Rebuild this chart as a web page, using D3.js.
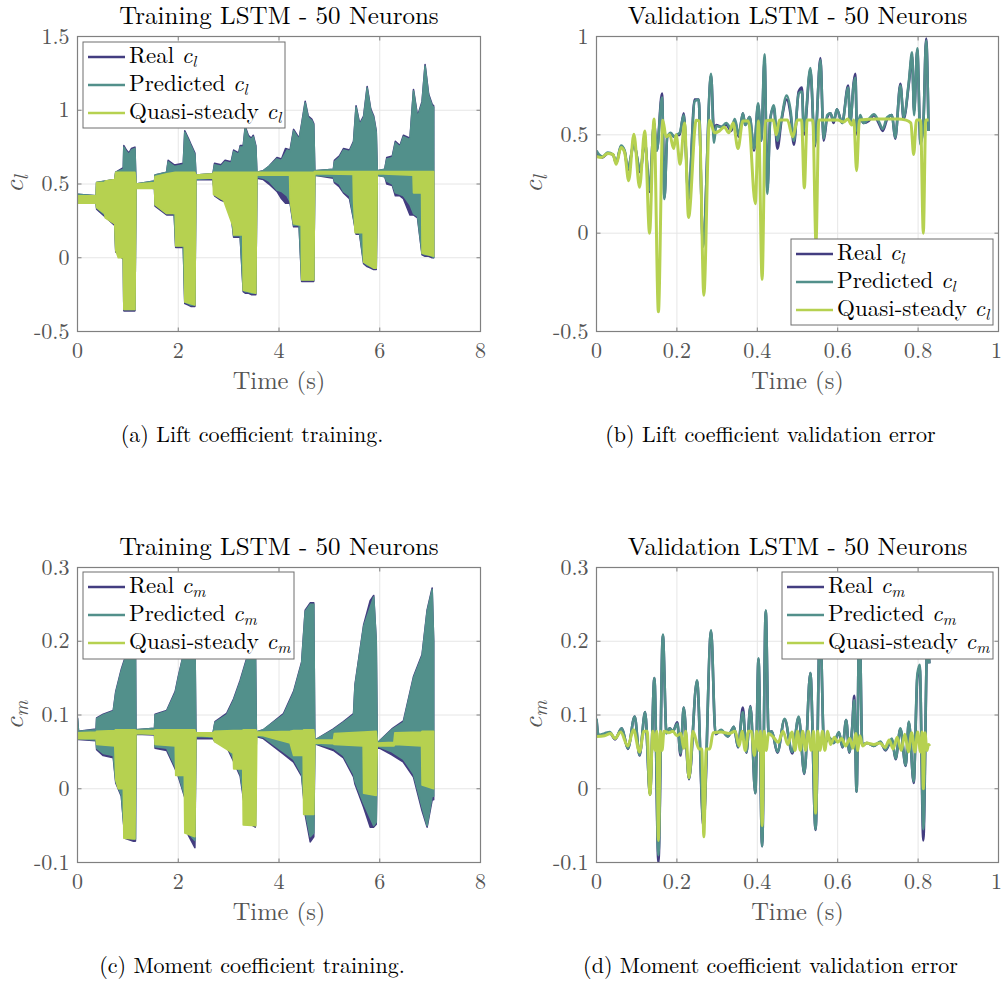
<!DOCTYPE html>
<html>
<head>
<meta charset="utf-8">
<title>LSTM - 50 Neurons</title>
<script src="https://cdn.jsdelivr.net/npm/d3@7"></script>
<style>
  body { margin: 0; background: #fff; }
</style>
</head>
<body>
<svg id="fig" width="1002" height="983"></svg>
<script>
// ---- axes ticks ----
var xTicksTrain = [0, 2, 4, 6, 8];
var xTicksVal = [0, 0.2, 0.4, 0.6, 0.8, 1];
var yTicksCl = [-0.5, 0, 0.5, 1, 1.5];
var yTicksClVal = [-0.5, 0, 0.5, 1];
var yTicksCm = [-0.1, 0, 0.1, 0.2, 0.3];

// ---- (a) training cl, dense signals read as envelopes [t, low, high] ----
var realClTrain = [
  [0,0.37,0.43],[0.37,0.37,0.42],[0.38,0.33,0.51],[0.74,0.22,0.53],[0.76,0.04,0.58],[0.91,-0.01,0.61],
  [0.92,-0.36,0.76],[0.97,-0.36,0.73],[1.02,-0.36,0.71],[1.07,-0.36,0.74],[1.14,-0.36,0.75],
  [1.16,0.48,0.50],[1.53,0.47,0.52],[1.54,0.35,0.56],[1.77,0.29,0.58],[1.80,0.29,0.66],[1.92,0.29,0.63],
  [1.95,0.07,0.63],[2.10,0.07,0.64],[2.13,-0.31,0.86],[2.20,-0.32,0.81],[2.25,-0.33,0.77],[2.33,-0.33,0.71],
  [2.35,0.53,0.56],[2.69,0.53,0.57],[2.72,0.42,0.64],[2.85,0.39,0.63],[2.93,0.38,0.66],[3.05,0.29,0.65],
  [3.10,0.14,0.73],[3.20,0.14,0.71],[3.23,0.14,0.76],[3.29,-0.23,0.76],[3.33,-0.24,0.89],[3.39,-0.24,0.83],
  [3.45,-0.25,0.81],[3.49,-0.25,0.83],[3.54,-0.25,0.76],[3.56,0.54,0.58],[3.69,0.53,0.59],[3.80,0.50,0.62],
  [3.96,0.45,0.68],[4.05,0.40,0.67],[4.13,0.37,0.74],[4.22,0.37,0.73],[4.29,0.21,0.87],[4.40,0.21,0.81],
  [4.45,-0.16,0.91],[4.52,-0.16,1.06],[4.58,-0.16,0.96],[4.65,-0.16,0.94],[4.69,-0.16,0.91],
  [4.71,0.56,0.59],[5.08,0.54,0.60],[5.10,0.51,0.66],[5.20,0.48,0.69],[5.28,0.44,0.74],[5.40,0.40,0.73],
  [5.48,0.26,0.79],[5.53,0.16,1.03],[5.60,0.16,0.91],[5.68,-0.04,0.96],[5.75,-0.06,1.16],[5.82,-0.07,1.01],
  [5.88,-0.08,0.96],[5.93,-0.08,0.86],[5.95,0.56,0.59],[6.10,0.55,0.60],[6.14,0.50,0.68],[6.25,0.49,0.69],
  [6.31,0.42,0.79],[6.40,0.42,0.76],[6.47,0.40,0.83],[6.60,0.29,0.81],[6.67,0.29,1.14],[6.75,0.27,0.96],
  [6.84,0.02,1.06],[6.90,0.01,1.31],[6.97,0.01,1.11],[7.04,0.00,1.04],[7.07,0.00,1.03]
];
var predClTrain = [
  [0,0.37,0.43],[0.37,0.37,0.42],[0.38,0.34,0.51],[0.74,0.23,0.53],[0.76,0.05,0.58],[0.91,0.00,0.60],
  [0.92,-0.35,0.75],[0.97,-0.35,0.72],[1.02,-0.35,0.70],[1.07,-0.35,0.73],[1.14,-0.35,0.74],
  [1.16,0.48,0.50],[1.53,0.48,0.52],[1.54,0.36,0.56],[1.77,0.30,0.58],[1.80,0.30,0.65],[1.92,0.30,0.62],
  [1.95,0.08,0.62],[2.10,0.08,0.63],[2.13,-0.30,0.85],[2.20,-0.31,0.80],[2.25,-0.32,0.76],[2.33,-0.32,0.70],
  [2.35,0.53,0.56],[2.69,0.54,0.57],[2.72,0.43,0.63],[2.85,0.40,0.62],[2.93,0.39,0.65],[3.05,0.30,0.64],
  [3.10,0.15,0.72],[3.20,0.15,0.70],[3.23,0.15,0.75],[3.29,-0.22,0.75],[3.33,-0.23,0.88],[3.39,-0.23,0.82],
  [3.45,-0.24,0.80],[3.49,-0.24,0.82],[3.54,-0.24,0.75],[3.56,0.55,0.58],[3.69,0.54,0.59],[3.80,0.52,0.62],
  [3.96,0.46,0.67],[4.05,0.45,0.66],[4.16,0.42,0.73],[4.22,0.38,0.72],[4.29,0.22,0.86],[4.40,0.22,0.80],
  [4.45,-0.15,0.90],[4.52,-0.15,1.05],[4.58,-0.15,0.95],[4.65,-0.15,0.93],[4.69,-0.15,0.90],
  [4.71,0.56,0.59],[5.08,0.55,0.60],[5.10,0.52,0.65],[5.20,0.50,0.68],[5.28,0.45,0.73],[5.40,0.42,0.72],
  [5.48,0.27,0.78],[5.53,0.17,1.02],[5.60,0.17,0.90],[5.68,-0.03,0.95],[5.75,-0.05,1.15],[5.82,-0.06,1.00],
  [5.88,-0.07,0.95],[5.93,-0.07,0.85],[5.95,0.56,0.59],[6.10,0.55,0.60],[6.14,0.52,0.67],[6.25,0.50,0.68],
  [6.31,0.44,0.78],[6.40,0.43,0.75],[6.47,0.42,0.82],[6.60,0.36,0.80],[6.67,0.30,1.13],[6.75,0.28,0.95],
  [6.84,0.03,1.05],[6.90,0.02,1.30],[6.97,0.02,1.10],[7.04,0.01,1.03],[7.07,0.00,1.02]
];
var quasiClTrain = [
  [0,0.37,0.42],[0.37,0.37,0.42],[0.38,0.34,0.51],[0.54,0.30,0.51],[0.55,0.27,0.52],[0.74,0.23,0.53],
  [0.76,0.05,0.58],[0.81,0.00,0.58],[0.91,0.00,0.58],[0.92,-0.35,0.58],[1.14,-0.35,0.58],
  [1.16,0.47,0.50],[1.53,0.47,0.51],[1.54,0.36,0.55],[1.77,0.30,0.57],[1.94,0.30,0.58],[1.95,0.08,0.58],
  [2.12,0.08,0.58],[2.13,-0.30,0.58],[2.33,-0.32,0.58],[2.35,0.54,0.56],[2.69,0.54,0.57],[2.70,0.43,0.58],
  [2.90,0.39,0.58],[3.09,0.21,0.58],[3.10,0.155,0.58],[3.28,0.155,0.58],[3.29,-0.22,0.58],[3.54,-0.24,0.58],
  [3.56,0.56,0.58],[4.21,0.56,0.58],[4.22,0.39,0.58],[4.29,0.23,0.58],[4.44,0.22,0.58],[4.45,-0.15,0.58],
  [4.69,-0.15,0.58],[4.71,0.57,0.585],[5.47,0.565,0.585],[5.48,0.39,0.585],[5.51,0.17,0.585],[5.67,0.17,0.585],
  [5.68,-0.03,0.585],[5.88,-0.07,0.585],[5.93,-0.07,0.585],[5.95,0.57,0.585],[6.66,0.56,0.585],
  [6.67,0.44,0.585],[6.83,0.44,0.585],[6.84,0.03,0.585],[7.07,0.01,0.585]
];

// ---- (b) validation cl [t, value] ----
var realClVal = [
  [0.000,0.40],[0.006,0.395],[0.015,0.385],[0.028,0.405],[0.041,0.40],[0.049,0.355],[0.061,0.44],[0.070,0.415],
  [0.078,0.32],[0.093,0.455],[0.109,0.31],[0.120,0.47],[0.132,0.21],[0.143,0.56],[0.150,0.42],[0.163,0.71],
  [0.169,0.18],[0.176,0.49],[0.185,0.505],[0.193,0.49],[0.200,0.50],[0.207,0.50],[0.217,0.61],[0.229,0.17],
  [0.244,0.68],[0.254,0.68],[0.265,-0.06],[0.285,0.80],[0.292,0.53],[0.298,0.55],[0.310,0.54],[0.323,0.55],
  [0.335,0.52],[0.344,0.57],[0.354,0.49],[0.364,0.61],[0.370,0.55],[0.381,0.59],[0.392,0.42],[0.402,0.65],
  [0.410,0.47],[0.418,0.88],[0.425,0.22],[0.432,0.58],[0.441,0.64],[0.450,0.43],[0.460,0.57],[0.473,0.68],
  [0.483,0.60],[0.491,0.45],[0.503,0.72],[0.511,0.74],[0.516,0.50],[0.532,0.83],[0.543,0.44],[0.557,0.89],
  [0.565,0.47],[0.574,0.59],[0.582,0.61],[0.590,0.56],[0.598,0.63],[0.611,0.56],[0.626,0.75],[0.631,0.56],
  [0.640,0.77],[0.644,0.81],[0.648,0.50],[0.656,0.59],[0.664,0.56],[0.677,0.57],[0.690,0.60],[0.702,0.56],
  [0.712,0.52],[0.723,0.58],[0.735,0.60],[0.743,0.48],[0.756,0.76],[0.764,0.58],[0.777,0.76],[0.785,0.90],
  [0.790,0.62],[0.798,0.93],[0.806,0.46],[0.813,0.55],[0.820,0.99],[0.826,0.52]
];
var predClVal = [
  [0.000,0.42],[0.006,0.40],[0.015,0.39],[0.028,0.41],[0.041,0.40],[0.049,0.36],[0.061,0.445],[0.070,0.42],
  [0.078,0.33],[0.093,0.45],[0.109,0.32],[0.120,0.47],[0.132,0.22],[0.143,0.56],[0.150,0.42],[0.163,0.69],
  [0.169,0.174],[0.176,0.49],[0.185,0.51],[0.193,0.49],[0.200,0.50],[0.207,0.51],[0.217,0.60],[0.229,0.18],
  [0.244,0.67],[0.254,0.68],[0.265,-0.07],[0.285,0.81],[0.292,0.46],[0.298,0.545],[0.310,0.54],[0.323,0.56],
  [0.335,0.53],[0.344,0.58],[0.354,0.50],[0.364,0.61],[0.370,0.55],[0.381,0.59],[0.392,0.43],[0.402,0.66],
  [0.410,0.47],[0.418,0.91],[0.425,0.20],[0.432,0.57],[0.441,0.65],[0.450,0.47],[0.460,0.58],[0.473,0.70],
  [0.483,0.62],[0.491,0.47],[0.503,0.71],[0.511,0.72],[0.516,0.52],[0.532,0.84],[0.543,0.45],[0.557,0.88],
  [0.565,0.48],[0.574,0.60],[0.582,0.61],[0.590,0.57],[0.598,0.63],[0.611,0.56],[0.626,0.74],[0.631,0.56],
  [0.640,0.76],[0.644,0.79],[0.648,0.52],[0.656,0.60],[0.664,0.56],[0.677,0.58],[0.690,0.605],[0.702,0.57],
  [0.712,0.53],[0.723,0.59],[0.735,0.60],[0.743,0.486],[0.756,0.75],[0.764,0.59],[0.777,0.77],[0.785,0.92],
  [0.790,0.60],[0.798,0.94],[0.806,0.45],[0.813,0.55],[0.820,0.98],[0.826,0.52]
];
var quasiClVal = [
  [0.000,0.39],[0.012,0.385],[0.028,0.405],[0.041,0.40],[0.049,0.35],[0.061,0.435],[0.070,0.41],[0.080,0.267],
  [0.093,0.503],[0.107,0.233],[0.120,0.52],[0.132,0.0],[0.143,0.58],[0.154,-0.40],[0.165,0.574],[0.173,0.49],
  [0.182,0.50],[0.192,0.43],[0.198,0.50],[0.208,0.35],[0.219,0.56],[0.229,0.08],[0.248,0.574],[0.256,0.57],
  [0.267,-0.316],[0.281,0.574],[0.294,0.51],[0.306,0.52],[0.318,0.54],[0.329,0.51],[0.340,0.56],[0.352,0.43],
  [0.364,0.57],[0.378,0.57],[0.395,0.15],[0.403,0.57],[0.412,-0.235],[0.420,0.57],[0.440,0.575],[0.447,0.50],
  [0.455,0.575],[0.475,0.575],[0.488,0.49],[0.500,0.575],[0.510,0.575],[0.517,0.23],[0.524,0.575],[0.538,0.575],
  [0.546,-0.05],[0.553,0.575],[0.600,0.575],[0.615,0.565],[0.625,0.58],[0.635,0.55],[0.640,0.575],[0.647,0.318],
  [0.654,0.575],[0.700,0.58],[0.750,0.58],[0.770,0.575],[0.782,0.56],[0.789,0.40],[0.796,0.575],[0.806,0.575],
  [0.813,0.0],[0.819,0.575],[0.826,0.575]
];

// ---- (c) training cm envelopes [t, low, high] ----
var realCmTrain = [
  [0,0.067,0.096],[0.02,0.067,0.078],[0.37,0.065,0.081],[0.38,0.053,0.096],[0.51,0.045,0.101],[0.71,0.042,0.106],
  [0.76,0.008,0.132],[0.87,-0.010,0.162],[0.94,-0.067,0.177],[1.10,-0.071,0.19],[1.15,-0.071,0.19],
  [1.16,0.074,0.080],[1.53,0.073,0.082],[1.54,0.055,0.101],[1.77,0.052,0.106],[1.94,0.027,0.132],
  [2.00,0.017,0.152],[2.13,-0.012,0.19],[2.20,-0.063,0.20],[2.33,-0.080,0.21],[2.35,0.068,0.075],
  [2.69,0.068,0.075],[2.73,0.064,0.091],[2.96,0.057,0.102],[3.10,0.037,0.122],[3.23,0.017,0.147],
  [3.36,-0.045,0.177],[3.53,-0.052,0.20],[3.55,0.071,0.077],[3.69,0.068,0.080],[4.09,0.047,0.102],
  [4.29,0.036,0.132],[4.45,0.017,0.172],[4.52,-0.035,0.242],[4.62,-0.072,0.252],[4.69,-0.065,0.252],
  [4.71,0.061,0.066],[5.08,0.052,0.081],[5.28,0.042,0.091],[5.48,0.016,0.102],[5.51,0.006,0.142],
  [5.68,-0.025,0.222],[5.81,-0.052,0.255],[5.88,-0.052,0.262],[5.93,-0.048,0.20],[5.95,0.057,0.062],
  [6.24,0.046,0.081],[6.47,0.036,0.092],[6.67,0.016,0.152],[6.84,-0.030,0.182],[6.94,-0.052,0.242],
  [7.04,-0.015,0.272],[7.07,-0.015,0.20]
];
var predCmTrain = [
  [0,0.068,0.095],[0.02,0.068,0.078],[0.37,0.066,0.080],[0.38,0.055,0.095],[0.51,0.048,0.100],[0.71,0.045,0.105],
  [0.76,0.010,0.130],[0.87,-0.008,0.160],[0.94,-0.065,0.175],[1.10,-0.068,0.19],[1.15,-0.068,0.19],
  [1.16,0.075,0.080],[1.53,0.074,0.082],[1.54,0.057,0.100],[1.77,0.055,0.105],[1.94,0.030,0.130],
  [2.00,0.020,0.150],[2.13,-0.010,0.19],[2.20,-0.060,0.20],[2.33,-0.070,0.21],[2.35,0.071,0.075],
  [2.69,0.070,0.075],[2.73,0.066,0.090],[2.96,0.060,0.100],[3.10,0.040,0.120],[3.23,0.020,0.145],
  [3.36,-0.040,0.175],[3.53,-0.050,0.20],[3.55,0.072,0.077],[3.69,0.070,0.080],[4.09,0.050,0.100],
  [4.29,0.040,0.130],[4.45,0.020,0.170],[4.52,-0.030,0.240],[4.62,-0.065,0.250],[4.69,-0.060,0.250],
  [4.71,0.062,0.066],[5.08,0.055,0.080],[5.28,0.045,0.090],[5.48,0.020,0.100],[5.51,0.010,0.140],
  [5.68,-0.020,0.220],[5.88,-0.050,0.260],[5.93,-0.045,0.200],[5.95,0.058,0.062],[6.24,0.050,0.080],
  [6.47,0.040,0.090],[6.67,0.020,0.150],[6.84,-0.025,0.180],[6.94,-0.050,0.240],[7.04,-0.010,0.270],
  [7.07,-0.010,0.200]
];
var quasiCmTrain = [
  [0,0.068,0.076],[0.37,0.068,0.077],[0.38,0.060,0.078],[0.74,0.058,0.079],[0.76,0.012,0.080],[0.81,0.000,0.080],
  [0.91,0.000,0.080],[0.92,-0.067,0.080],[1.14,-0.068,0.080],[1.16,0.075,0.079],[1.53,0.074,0.079],
  [1.54,0.060,0.080],[1.94,0.058,0.080],[1.95,0.018,0.080],[2.12,0.018,0.080],[2.13,-0.060,0.080],
  [2.33,-0.065,0.080],[2.35,0.072,0.076],[2.69,0.071,0.076],[2.72,0.064,0.078],[3.09,0.048,0.079],
  [3.10,0.027,0.079],[3.28,0.027,0.079],[3.29,-0.049,0.080],[3.54,-0.050,0.080],[3.56,0.073,0.077],
  [3.69,0.072,0.077],[4.22,0.062,0.078],[4.29,0.045,0.079],[4.48,0.045,0.079],[4.49,-0.035,0.080],
  [4.69,-0.035,0.080],[4.71,0.062,0.066],[5.08,0.061,0.066],[5.10,0.060,0.075],[5.67,0.058,0.077],
  [5.68,-0.006,0.077],[5.93,-0.009,0.078],[5.95,0.058,0.062],[6.28,0.058,0.063],[6.30,0.060,0.076],
  [6.83,0.058,0.077],[6.84,0.005,0.078],[7.07,0.000,0.078]
];

// ---- (d) validation cm [t, value] ----
var realCmVal = [
  [0.000,0.094],[0.005,0.072],[0.020,0.074],[0.033,0.076],[0.046,0.067],[0.063,0.082],[0.078,0.054],[0.095,0.098],
  [0.107,0.045],[0.121,0.104],[0.133,-0.008],[0.144,0.150],[0.154,-0.100],[0.165,0.208],[0.174,0.076],[0.182,0.082],
  [0.190,0.078],[0.201,0.090],[0.209,0.045],[0.217,0.110],[0.230,0.013],[0.250,0.146],[0.266,-0.050],[0.285,0.214],
  [0.296,0.074],[0.310,0.079],[0.327,0.071],[0.342,0.084],[0.352,0.056],[0.364,0.110],[0.373,0.049],[0.383,0.112],
  [0.395,-0.006],[0.403,0.176],[0.412,-0.078],[0.421,0.241],[0.428,0.076],[0.436,0.078],[0.450,0.049],[0.468,0.094],
  [0.487,0.048],[0.503,0.097],[0.517,0.020],[0.532,0.157],[0.545,-0.056],[0.556,0.23],[0.566,0.060],[0.578,0.069],
  [0.590,0.062],[0.603,0.076],[0.612,0.056],[0.621,0.093],[0.629,0.049],[0.636,0.083],[0.641,0.126],[0.647,-0.004],
  [0.654,0.24],[0.661,0.059],[0.673,0.062],[0.690,0.058],[0.706,0.063],[0.719,0.052],[0.735,0.067],[0.744,0.040],
  [0.756,0.081],[0.769,0.031],[0.777,0.090],[0.789,0.008],[0.798,0.150],[0.804,0.165],[0.813,-0.070],[0.823,0.20],
  [0.828,0.17]
];
var predCmVal = [
  [0.000,0.095],[0.005,0.073],[0.020,0.075],[0.033,0.077],[0.046,0.068],[0.063,0.082],[0.078,0.055],[0.095,0.098],
  [0.107,0.046],[0.121,0.104],[0.133,-0.008],[0.144,0.150],[0.154,-0.090],[0.165,0.209],[0.174,0.075],[0.182,0.082],
  [0.190,0.078],[0.201,0.088],[0.209,0.048],[0.217,0.110],[0.230,0.014],[0.250,0.147],[0.266,-0.044],[0.285,0.215],
  [0.296,0.075],[0.310,0.080],[0.327,0.071],[0.342,0.084],[0.352,0.057],[0.364,0.104],[0.373,0.050],[0.383,0.111],
  [0.395,-0.006],[0.403,0.177],[0.412,-0.078],[0.421,0.242],[0.428,0.075],[0.436,0.078],[0.450,0.050],[0.468,0.095],
  [0.487,0.050],[0.503,0.098],[0.517,0.021],[0.532,0.157],[0.545,-0.055],[0.556,0.23],[0.566,0.060],[0.578,0.070],
  [0.590,0.062],[0.603,0.077],[0.612,0.057],[0.621,0.093],[0.629,0.050],[0.636,0.082],[0.641,0.120],[0.647,-0.004],
  [0.654,0.24],[0.661,0.060],[0.673,0.062],[0.690,0.058],[0.706,0.064],[0.719,0.053],[0.735,0.068],[0.744,0.041],
  [0.756,0.082],[0.769,0.032],[0.777,0.091],[0.789,0.010],[0.798,0.154],[0.804,0.168],[0.813,-0.055],[0.823,0.20],
  [0.828,0.17]
];
var quasiCmVal = [
  [0.000,0.071],[0.020,0.072],[0.035,0.075],[0.046,0.068],[0.060,0.077],[0.078,0.058],[0.092,0.080],[0.107,0.050],
  [0.118,0.078],[0.126,0.078],[0.133,-0.008],[0.140,0.078],[0.146,0.052],[0.150,0.078],[0.154,-0.070],[0.159,0.078],
  [0.163,0.052],[0.168,0.078],[0.180,0.076],[0.190,0.078],[0.200,0.072],[0.210,0.075],[0.217,0.055],[0.222,0.078],
  [0.230,0.015],[0.240,0.078],[0.255,0.054],[0.262,0.054],[0.267,-0.065],[0.273,0.054],[0.282,0.054],[0.290,0.076],
  [0.310,0.077],[0.330,0.075],[0.345,0.078],[0.355,0.058],[0.362,0.078],[0.370,0.052],[0.378,0.078],[0.385,0.078],
  [0.393,0.045],[0.398,0.078],[0.404,0.052],[0.408,0.078],[0.412,-0.050],[0.417,0.078],[0.422,0.052],[0.428,0.075],
  [0.440,0.070],[0.452,0.063],[0.464,0.078],[0.476,0.060],[0.486,0.077],[0.494,0.052],[0.500,0.078],[0.507,0.052],
  [0.513,0.078],[0.520,0.052],[0.527,0.078],[0.534,0.052],[0.540,0.078],[0.545,-0.033],[0.550,0.078],[0.556,0.052],
  [0.562,0.078],[0.568,0.052],[0.575,0.078],[0.582,0.060],[0.592,0.070],[0.600,0.063],[0.610,0.068],[0.620,0.058],
  [0.630,0.068],[0.638,0.055],[0.645,0.075],[0.650,0.052],[0.655,0.072],[0.662,0.058],[0.672,0.062],[0.690,0.060],
  [0.705,0.062],[0.718,0.056],[0.728,0.066],[0.738,0.054],[0.748,0.070],[0.758,0.052],[0.767,0.074],[0.776,0.050],
  [0.784,0.076],[0.792,0.050],[0.799,0.077],[0.806,0.050],[0.810,0.077],[0.813,0.000],[0.817,0.076],[0.822,0.052],
  [0.826,0.060],[0.829,0.058]
];

var colReal = "#433d80", colPred = "#52908b", colQuasi = "#b6d150";
var axisCol = "#808080", labelCol = "#555555";
var serif = "Latin Modern Roman";

var svg = d3.select("#fig");
var defs = svg.append("defs");

function txt(sel) {
  return sel.append("text").attr("font-family", serif);
}

function drawPanel(p) {
  var x = d3.scaleLinear().domain(p.xDomain).range([p.left, p.left + p.w]);
  var y = d3.scaleLinear().domain(p.yDomain).range([p.top + p.h, p.top]);
  var g = svg.append("g");

  defs.append("clipPath").attr("id", "clip-" + p.id)
    .append("rect").attr("x", p.left).attr("y", p.top).attr("width", p.w).attr("height", p.h);

  // grid
  g.selectAll(".gx").data(p.xTicks).enter().append("line")
    .attr("x1", d => x(d)).attr("x2", d => x(d))
    .attr("y1", p.top).attr("y2", p.top + p.h)
    .attr("stroke", "#e6e6e6").attr("stroke-width", 1);
  g.selectAll(".gy").data(p.yTicks).enter().append("line")
    .attr("y1", d => y(d)).attr("y2", d => y(d))
    .attr("x1", p.left).attr("x2", p.left + p.w)
    .attr("stroke", "#e6e6e6").attr("stroke-width", 1);

  var plot = g.append("g").attr("clip-path", "url(#clip-" + p.id + ")");

  if (p.kind == "env") {
    var area = d3.area().x(d => x(d[0])).y0(d => y(d[1])).y1(d => y(d[2]));
    p.series.forEach(function(s) {
      plot.append("path").datum(s.data).attr("d", area)
        .attr("fill", s.color).attr("stroke", s.color)
        .attr("stroke-width", 1.6).attr("stroke-linejoin", "round");
    });
  } else {
    var line = d3.line().x(d => x(d[0])).y(d => y(d[1])).curve(d3.curveMonotoneX);
    p.series.forEach(function(s) {
      plot.append("path").datum(s.data).attr("d", line)
        .attr("fill", "none").attr("stroke", s.color)
        .attr("stroke-width", s.width).attr("stroke-linejoin", "round");
    });
  }

  // box
  g.append("rect").attr("x", p.left).attr("y", p.top).attr("width", p.w).attr("height", p.h)
    .attr("fill", "none").attr("stroke", axisCol).attr("stroke-width", 1.2);

  // ticks on all sides
  var tl = 4;
  p.xTicks.forEach(function(d) {
    g.append("line").attr("x1", x(d)).attr("x2", x(d)).attr("y1", p.top + p.h).attr("y2", p.top + p.h - tl).attr("stroke", axisCol);
    g.append("line").attr("x1", x(d)).attr("x2", x(d)).attr("y1", p.top).attr("y2", p.top + tl).attr("stroke", axisCol);
  });
  p.yTicks.forEach(function(d) {
    g.append("line").attr("y1", y(d)).attr("y2", y(d)).attr("x1", p.left).attr("x2", p.left + tl).attr("stroke", axisCol);
    g.append("line").attr("y1", y(d)).attr("y2", y(d)).attr("x1", p.left + p.w).attr("x2", p.left + p.w - tl).attr("stroke", axisCol);
  });

  // tick labels (the last one at the page edge is kept inside)
  p.xTicks.forEach(function(d) {
    var px = x(d), anchor = "middle";
    if (px + 6 > 1002) { px = 1002; anchor = "end"; }
    txt(g).attr("x", px).attr("y", p.top + p.h + 26.5)
      .attr("text-anchor", anchor).attr("font-size", 22).attr("fill", labelCol)
      .text(String(d));
  });
  p.yTicks.forEach(function(d) {
    txt(g).attr("x", p.left - 8).attr("y", y(d) + 7)
      .attr("text-anchor", "end").attr("font-size", 22).attr("fill", labelCol)
      .text(String(d));
  });

  // title
  txt(g).attr("x", p.left + p.w / 2).attr("y", p.top - 13)
    .attr("text-anchor", "middle").attr("font-size", 25)
    .attr("fill", "#000").text(p.title);

  // x label
  txt(g).attr("x", p.left + p.w / 2).attr("y", p.top + p.h + 57)
    .attr("text-anchor", "middle").attr("font-size", 24.5)
    .attr("fill", labelCol).text("Time (s)");

  // y label
  var yl = txt(g)
    .attr("transform", "translate(" + (p.left - 55) + "," + (p.top + p.h / 2) + ") rotate(-90)")
    .attr("text-anchor", "middle").attr("fill", labelCol).attr("font-style", "italic");
  yl.append("tspan").attr("font-size", 28).text("c");
  yl.append("tspan").attr("font-size", 20).attr("dy", 5).text(p.sub);

  // legend
  var lg = g.append("g");
  lg.append("rect").attr("x", p.legend[0]).attr("y", p.legend[1]).attr("width", p.legend[2]).attr("height", p.legend[3])
    .attr("fill", "#fff").attr("stroke", "#6e6e6e").attr("stroke-width", 1);
  var names = ["Real ", "Predicted ", "Quasi-steady "];
  var cols = [colReal, colPred, colQuasi];
  names.forEach(function(n, i) {
    var ly = p.legend[1] + 15 + i * 28;
    lg.append("line").attr("x1", p.legend[0] + 5).attr("x2", p.legend[0] + 42)
      .attr("y1", ly).attr("y2", ly).attr("stroke", cols[i]).attr("stroke-width", 2.6);
    var t = txt(lg).attr("x", p.legend[0] + 46).attr("y", ly + 6)
      .attr("font-size", 23).attr("fill", "#000");
    t.append("tspan").text(n);
    t.append("tspan").attr("font-style", "italic").text("c");
    t.append("tspan").attr("font-style", "italic").attr("font-size", 16).attr("dy", 4).text(p.sub);
  });

  // caption
  txt(svg).attr("x", p.left + p.w / 2 - 27).attr("y", p.top + 405)
    .attr("text-anchor", "middle").attr("font-size", 22)
    .attr("fill", "#000").text(p.caption);
}

drawPanel({
  id: "a", kind: "env", left: 77.5, top: 36.5, w: 403, h: 295,
  xDomain: [0, 8], yDomain: [-0.5, 1.5], xTicks: xTicksTrain, yTicks: yTicksCl,
  title: "Training LSTM - 50 Neurons", sub: "l", legend: [83, 42, 202, 86],
  caption: "(a) Lift coefficient training.",
  series: [{data: realClTrain, color: colReal}, {data: predClTrain, color: colPred}, {data: quasiClTrain, color: colQuasi}]
});
drawPanel({
  id: "b", kind: "line", left: 596.5, top: 36.5, w: 402, h: 295,
  xDomain: [0, 1], yDomain: [-0.5, 1], xTicks: xTicksVal, yTicks: yTicksClVal,
  title: "Validation LSTM - 50 Neurons", sub: "l", legend: [791, 239, 202, 86],
  caption: "(b) Lift coefficient validation error",
  series: [{data: realClVal, color: colReal, width: 2.6}, {data: predClVal, color: colPred, width: 2.6}, {data: quasiClVal, color: colQuasi, width: 3}]
});
drawPanel({
  id: "c", kind: "env", left: 77.5, top: 567.5, w: 403, h: 295,
  xDomain: [0, 8], yDomain: [-0.1, 0.3], xTicks: xTicksTrain, yTicks: yTicksCm,
  title: "Training LSTM - 50 Neurons", sub: "m", legend: [83, 572, 211, 87],
  caption: "(c) Moment coefficient training.",
  series: [{data: realCmTrain, color: colReal}, {data: predCmTrain, color: colPred}, {data: quasiCmTrain, color: colQuasi}]
});
drawPanel({
  id: "d", kind: "line", left: 596.5, top: 567.5, w: 402, h: 295,
  xDomain: [0, 1], yDomain: [-0.1, 0.3], xTicks: xTicksVal, yTicks: yTicksCm,
  title: "Validation LSTM - 50 Neurons", sub: "m", legend: [782, 572, 211, 87],
  caption: "(d) Moment coefficient validation error",
  series: [{data: realCmVal, color: colReal, width: 2.6}, {data: predCmVal, color: colPred, width: 2.6}, {data: quasiCmVal, color: colQuasi, width: 3}]
});
</script>
</body>
</html>
